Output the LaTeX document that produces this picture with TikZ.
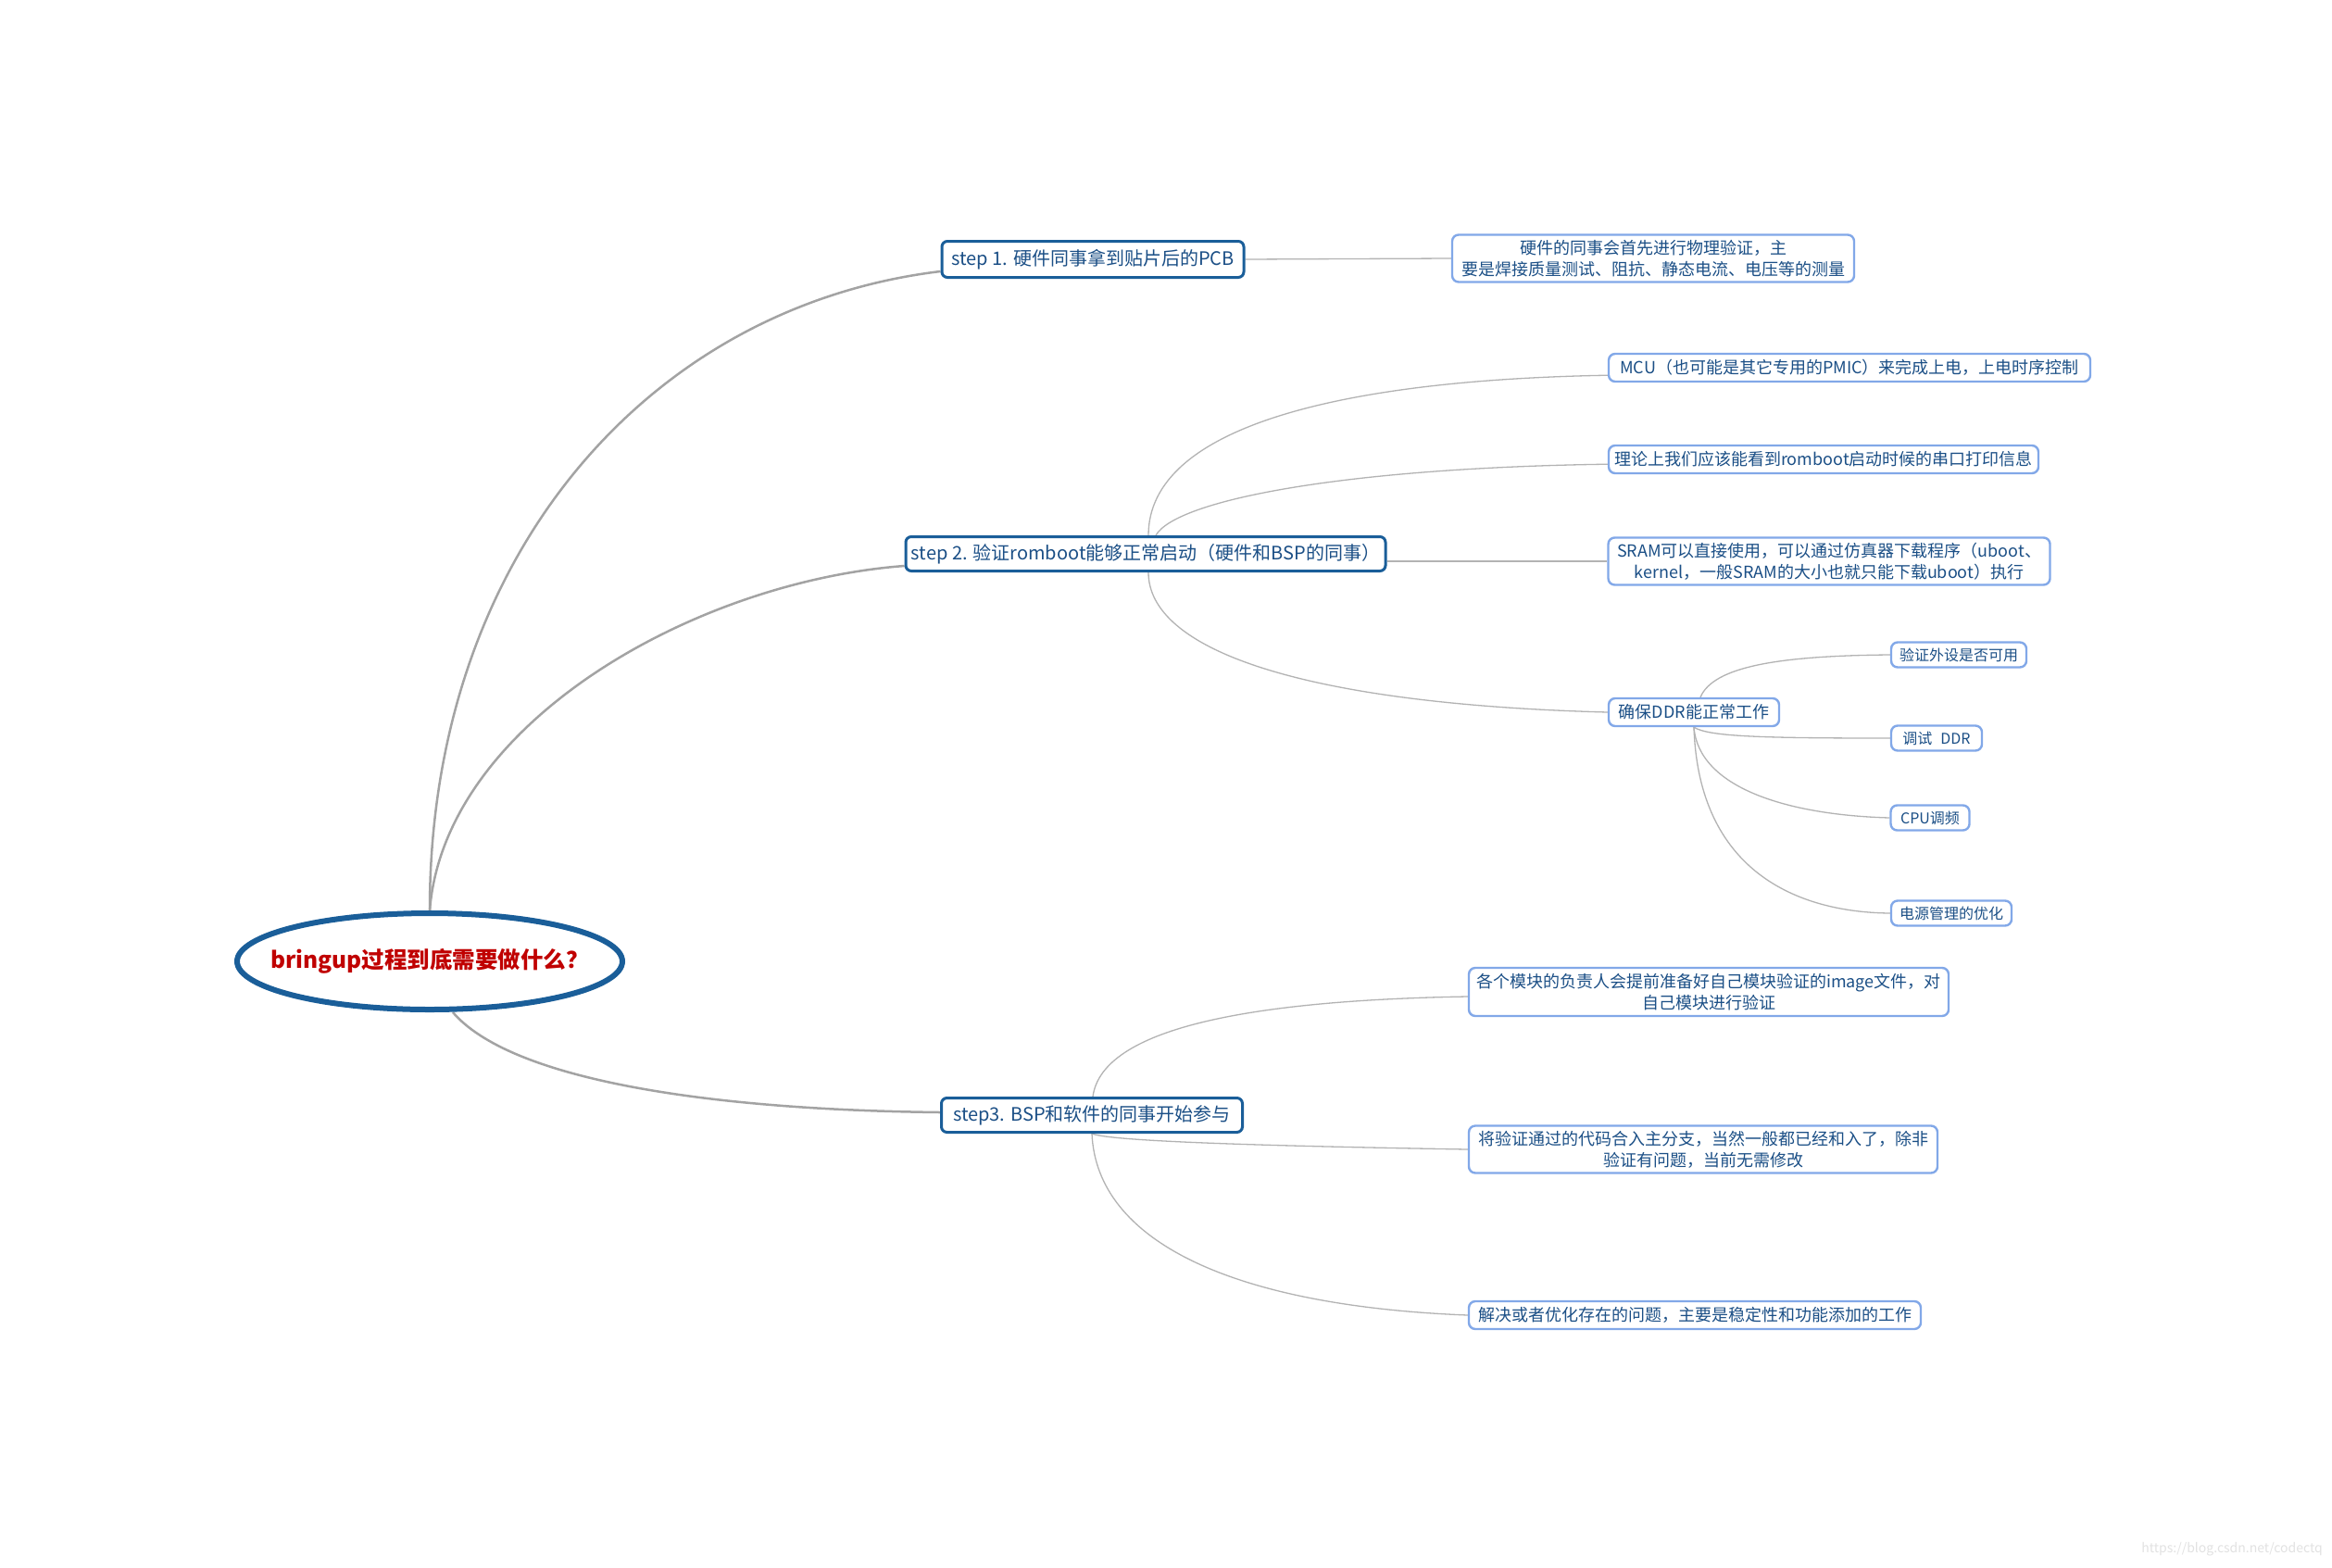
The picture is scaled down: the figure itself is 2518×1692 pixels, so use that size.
\documentclass[tikz,border=0pt]{standalone}
\usepackage{fontspec}
\setmainfont{Noto Sans CJK SC}
\usetikzlibrary{shapes.geometric,backgrounds,calc}
\definecolor{stepblue}{HTML}{1A5E99}
\definecolor{txtblue}{HTML}{1B4F86}
\definecolor{leafblue}{HTML}{82A8E8}
\definecolor{rootred}{HTML}{C00000}
\definecolor{mainline}{HTML}{A3A3A3}
\definecolor{subline}{HTML}{B3B3B3}
\definecolor{wmgray}{HTML}{E2E2E2}
\begin{document}
\begin{tikzpicture}[x=1pt,y=-1pt,
  stepnode/.style={draw=stepblue,line width=3pt,rounded corners=6pt,fill=white,text=txtblue,font=\fontsize{20}{24}\selectfont,inner sep=0pt},
  leaf/.style={draw=leafblue,line width=2.4pt,rounded corners=7pt,fill=white,text=txtblue,font=\fontsize{18}{23}\selectfont,inner sep=0pt,align=center},
  tinyleaf/.style={leaf,font=\fontsize{16}{19}\selectfont,minimum height=27pt},
  mainconn/.style={draw=mainline,line width=2.5pt},
  subconn/.style={draw=subline,line width=1.3pt}]
\useasboundingbox (0,0) rectangle (2518,1692);

% root
\node[ellipse,draw=stepblue,line width=6pt,fill=white,minimum width=416pt,minimum height=104pt,inner sep=0pt,text=rootred,font=\fontsize{24.5}{29}\selectfont\bfseries] (root) at (464,1038) {\makebox[0pt]{bringup过程到底需要做什么？}};

% steps
\node[stepnode,minimum width=326pt,minimum height=39pt] (s1) at (1180,280) {step 1. 硬件同事拿到贴片后的PCB};
\node[stepnode,minimum width=518pt,minimum height=37pt] (s2) at (1237,598) {step 2. 验证romboot能够正常启动（硬件和BSP的同事）};
\node[stepnode,minimum width=325pt,minimum height=37pt] (s3) at (1179,1204) {step3.  BSP和软件的同事开始参与};

% leaves
\node[leaf,minimum width=434pt,minimum height=51pt] (c1) at (1785,279) {硬件的同事会首先进行物理验证，主\\要是焊接质量测试、阻抗、静态电流、电压等的测量};
\node[leaf,minimum width=520pt,minimum height=30pt] (mcu) at (1997,397) {MCU（也可能是其它专用的PMIC）来完成上电，上电时序控制};
\node[leaf,minimum width=464pt,minimum height=30pt] (ll) at (1969,496) {理论上我们应该能看到romboot启动时候的串口打印信息};
\node[leaf,minimum width=477pt,minimum height=51pt] (sram) at (1975,606) {SRAM可以直接使用，可以通过仿真器下载程序（uboot、\\kernel，一般SRAM的大小也就只能下载uboot）执行};
\node[leaf,minimum width=184pt,minimum height=30pt] (ddr) at (1829,769) {确保DDR能正常工作};
\node[tinyleaf,minimum width=146pt] (vv) at (2115,707) {验证外设是否可用};
\node[tinyleaf,minimum width=98pt] (ts) at (2091,797) {调试\hspace{9pt}DDR};
\node[tinyleaf,minimum width=85pt] (cpu) at (2084,883) {CPU调频};
\node[tinyleaf,minimum width=130pt] (pw) at (2107,986) {电源管理的优化};
\node[leaf,minimum width=518pt,minimum height=52pt] (m1) at (1845,1071) {各个模块的负责人会提前准备好自己模块验证的image文件，对\\自己模块进行验证};
\node[leaf,minimum width=506pt,minimum height=51pt] (m2) at (1839,1241) {将验证通过的代码合入主分支，当然一般都已经和入了，除非\\验证有问题，当前无需修改};
\node[leaf,minimum width=488pt,minimum height=30pt] (m3) at (1830,1420) {解决或者优化存在的问题，主要是稳定性和功能添加的工作};

% watermark
\node[text=wmgray,font=\fontsize{14}{16}\selectfont,anchor=east,inner sep=0pt] (wm) at (2508,1673) {https://blog.csdn.net/codectq};

\begin{scope}[on background layer]
  \fill[white] (0,0) rectangle (2518,1692);
  % root to steps
  \draw[mainconn] (root.north) .. controls +(0,-383) and +(-315,38) .. ([yshift=8pt]s1.south west);
  \draw[mainconn] (root.north) .. controls +(16,-203) and +(-226,17) .. ([yshift=7pt]s2.south west);
  \draw[mainconn] ([xshift=25pt]root.south) .. controls +(60,70) and +(-265,-3) .. ([yshift=3pt]s3.west);
  % step1
  \draw[subconn] (s1.east) -- (c1.west);
  % step2
  \draw[subconn] ([xshift=3pt]s2.north) .. controls +(0,-118) and +(-286,5) .. ([yshift=8pt]mcu.south west);
  \draw[subconn] ([xshift=11pt]s2.north) .. controls +(22,-38) and +(-286,4) .. ([yshift=11pt]ll.south west);
  \draw[subconn] (s2.east |- sram.west) -- (sram.west);
  \draw[subconn] ([xshift=3pt]s2.south) .. controls +(0,82) and +(-336,-9) .. (ddr.west);
  % ddr
  \draw[subconn] ([xshift=7pt]ddr.north) .. controls +(14,-33) and +(-121,1) .. (vv.west);
  \draw[subconn] (ddr.south) .. controls +(16,10) and +(-141,0) .. (ts.west);
  \draw[subconn] (ddr.south) .. controls +(5,65) and +(-111,-3) .. (cpu.west);
  \draw[subconn] (ddr.south) .. controls +(5,155) and +(-101,-1) .. (pw.west);
  % step3
  \draw[subconn] ([xshift=1pt]s3.north) .. controls +(10,-74) and +(-235,4) .. ([yshift=-5pt]m1.west);
  \draw[subconn] (s3.south) .. controls +(20,8) and +(-235,-4) .. (m2.west);
  \draw[subconn] (s3.south) .. controls +(5,116) and +(-255,-10) .. (m3.west);
\end{scope}
\end{tikzpicture}
\end{document}
